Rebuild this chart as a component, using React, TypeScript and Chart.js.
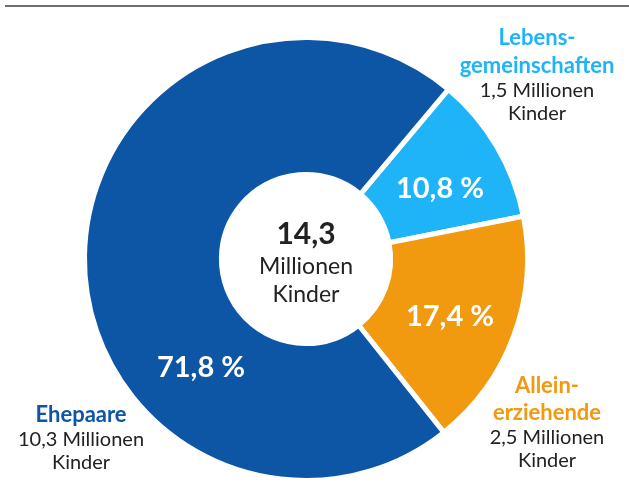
import React, { useEffect, useRef } from "react";
import { Chart, registerables } from "chart.js";

Chart.register(...registerables);

const categories = ["Lebensgemeinschaften", "Alleinerziehende", "Ehepaare"];
const shares = [10.8, 17.4, 71.8];
const shareLabels = ["10,8 %", "17,4 %", "71,8 %"];
const titleLines = [["Lebens-", "gemeinschaften"], ["Allein-", "erziehende"], ["Ehepaare"]];
const countLines = [["1,5 Millionen", "Kinder"], ["2,5 Millionen", "Kinder"], ["10,3 Millionen", "Kinder"]];
const totalValue = "14,3";
const totalLines = ["Millionen", "Kinder"];
const colors = ["#1fb4f8", "#f1990f", "#0d55a5"];

// label placement relative to the doughnut centre (style only)
const shareOffsets = [
  { dx: 134, dy: -61 },
  { dx: 144, dy: 67 },
  { dx: -105, dy: 118 },
];
const outerOffsets = [
  { dx: 231, dys: [-214, -186, -162, -139] },
  { dx: 241, dys: [134, 161, 185, 208] },
  { dx: -225, dys: [163, 187, 210] },
];

const labelPlugin = {
  id: "labels",
  beforeDraw(chart: any) {
    const ctx = chart.ctx;
    ctx.save();
    ctx.fillStyle = "#ffffff";
    ctx.fillRect(0, 0, chart.width, chart.height);
    ctx.strokeStyle = "#707070";
    ctx.lineWidth = 2;
    ctx.beginPath();
    ctx.moveTo(5, 6);
    ctx.lineTo(chart.width, 6);
    ctx.stroke();
    ctx.restore();
  },
  afterDraw(chart: any) {
    const ctx = chart.ctx;
    const meta = chart.getDatasetMeta(0);
    const arc = meta.data[0];
    const cx = arc.x;
    const cy = arc.y;
    ctx.save();
    ctx.textAlign = "center";
    ctx.textBaseline = "alphabetic";
    // centre text
    ctx.fillStyle = "#222222";
    ctx.font = "bold 30px Lato";
    ctx.fillText(totalValue, cx, cy - 15);
    ctx.font = "23px Lato";
    ctx.fillText(totalLines[0], cx, cy + 15);
    ctx.fillText(totalLines[1], cx, cy + 43);
    // share labels
    ctx.fillStyle = "#ffffff";
    ctx.font = "bold 29px Lato";
    meta.data.forEach((_: any, i: number) => {
      ctx.fillText(shareLabels[i], cx + shareOffsets[i].dx, cy + shareOffsets[i].dy);
    });
    // outer labels
    categories.forEach((_, i) => {
      const o = outerOffsets[i];
      const t = titleLines[i];
      const c = countLines[i];
      let k = 0;
      ctx.fillStyle = colors[i];
      ctx.font = "bold 22px Lato";
      t.forEach((line) => {
        ctx.fillText(line, cx + o.dx, cy + o.dys[k++]);
      });
      ctx.fillStyle = "#222222";
      ctx.font = "20px Lato";
      c.forEach((line) => {
        ctx.fillText(line, cx + o.dx, cy + o.dys[k++]);
      });
    });
    ctx.restore();
  },
};

export default function App() {
  const ref = useRef<HTMLCanvasElement | null>(null);
  useEffect(() => {
    document.body.style.margin = "0";
    const canvas = ref.current;
    if (!canvas) return;
    const chart = new Chart(canvas, {
      type: "doughnut",
      data: {
        labels: categories,
        datasets: [
          {
            data: shares,
            backgroundColor: colors,
            borderColor: "#ffffff",
            borderWidth: 5,
            hoverOffset: 0,
          },
        ],
      },
      options: {
        responsive: false,
        animation: false,
        devicePixelRatio: 1,
        rotation: 40,
        cutout: "38.2%",
        layout: { padding: { top: 35, bottom: 17, left: 82, right: 99 } },
        plugins: {
          legend: { display: false },
          tooltip: { enabled: false },
        },
        events: [],
      } as any,
      plugins: [labelPlugin],
    });
    return () => chart.destroy();
  }, []);
  return (
    <div style={{ position: "absolute", left: 0, top: 0, width: 629, height: 500 }}>
      <canvas ref={ref} width={629} height={500} style={{ width: 629, height: 500, display: "block" }} />
    </div>
  );
}
